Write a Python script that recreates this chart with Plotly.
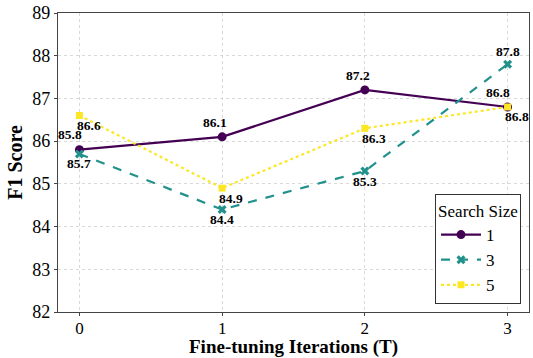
import plotly.graph_objects as go

iterations = [0, 1, 2, 3]
series_names = ["1", "3", "5"]
f1_size1 = [85.8, 86.1, 87.2, 86.8]
f1_size3 = [85.7, 84.4, 85.3, 87.8]
f1_size5 = [86.6, 84.9, 86.3, 86.8]
y_ticks = [82, 83, 84, 85, 86, 87, 88, 89]

colors = ["#440154", "#21918c", "#fde725"]
dashes = ["solid", "dash", "dot"]
symbols = ["circle", "x", "square"]
msizes = [9, 8, 7]
all_values = [f1_size1, f1_size3, f1_size5]
label_shift = [(-7, 14), (0, -10), (9, -10)]
label_shift_special = {(1, 3): (0, 13), (0, 3): (-10, 14), (0, 0): (-9, 15), (2, 0): (10, -10)}

FONT = "Liberation Serif, Times New Roman, serif"

fig = go.Figure()
for i, (name, vals) in enumerate(zip(series_names, all_values)):
    fig.add_trace(go.Scatter(
        x=iterations, y=vals, name=name, mode="lines+markers",
        line=dict(color=colors[i], width=2.2, dash=dashes[i]),
        marker=dict(symbol=symbols[i], size=msizes[i], color=colors[i]),
    ))

annotations = []
for i, vals in enumerate(all_values):
    for j, (xv, yv) in enumerate(zip(iterations, vals)):
        xs, ys = label_shift_special.get((i, j), label_shift[i])
        annotations.append(dict(
            x=xv, y=yv, xref="x", yref="y", text=f"<b>{yv:.1f}</b>",
            showarrow=False, xshift=xs, yshift=ys,
            font=dict(family=FONT, size=13.5, color="black"),
        ))

fig.update_layout(
    width=533, height=358,
    margin=dict(l=58, r=4, t=13, b=46),
    paper_bgcolor="white", plot_bgcolor="white",
    font=dict(family=FONT, size=17, color="black"),
    annotations=annotations,
    showlegend=True,
    legend=dict(
        title=dict(text="Search Size", font=dict(family=FONT, size=17), side="top center"),
        x=0.983, xanchor="right", y=0.027, yanchor="bottom",
        bgcolor="white", bordercolor="#333", borderwidth=1,
        font=dict(family=FONT, size=17),
        itemwidth=40, tracegroupgap=2,
    ),
)
fig.update_xaxes(
    range=[-0.15, 3.15], tickvals=iterations, ticktext=[str(v) for v in iterations],
    showgrid=True, gridcolor="#d9d9d9", griddash="3px,3px", gridwidth=0.8,
    showline=True, linecolor="#444", linewidth=1.2, mirror=True,
    ticks="outside", ticklen=3, tickcolor="#444", zeroline=False,
    title=dict(text="<b>Fine-tuning Iterations (T)</b>", font=dict(family=FONT, size=19), standoff=1),
    tickfont=dict(family=FONT, size=17), ticklabeloverflow="allow", automargin=False,
    ticklabelstandoff=-3,
)
fig.update_yaxes(
    range=[82, 89], tickvals=y_ticks,
    showgrid=True, gridcolor="#d9d9d9", griddash="3px,3px", gridwidth=0.8,
    showline=True, linecolor="#444", linewidth=1.2, mirror=True,
    ticks="outside", ticklen=3, tickcolor="#444", zeroline=False,
    title=dict(text="<b>F1 Score</b>", font=dict(family=FONT, size=20), standoff=4),
    tickfont=dict(family=FONT, size=18), ticklabeloverflow="allow", automargin=False,
)

fig.write_html("out.html", config={"displayModeBar": False},
               post_script="document.body.style.margin='0';")
